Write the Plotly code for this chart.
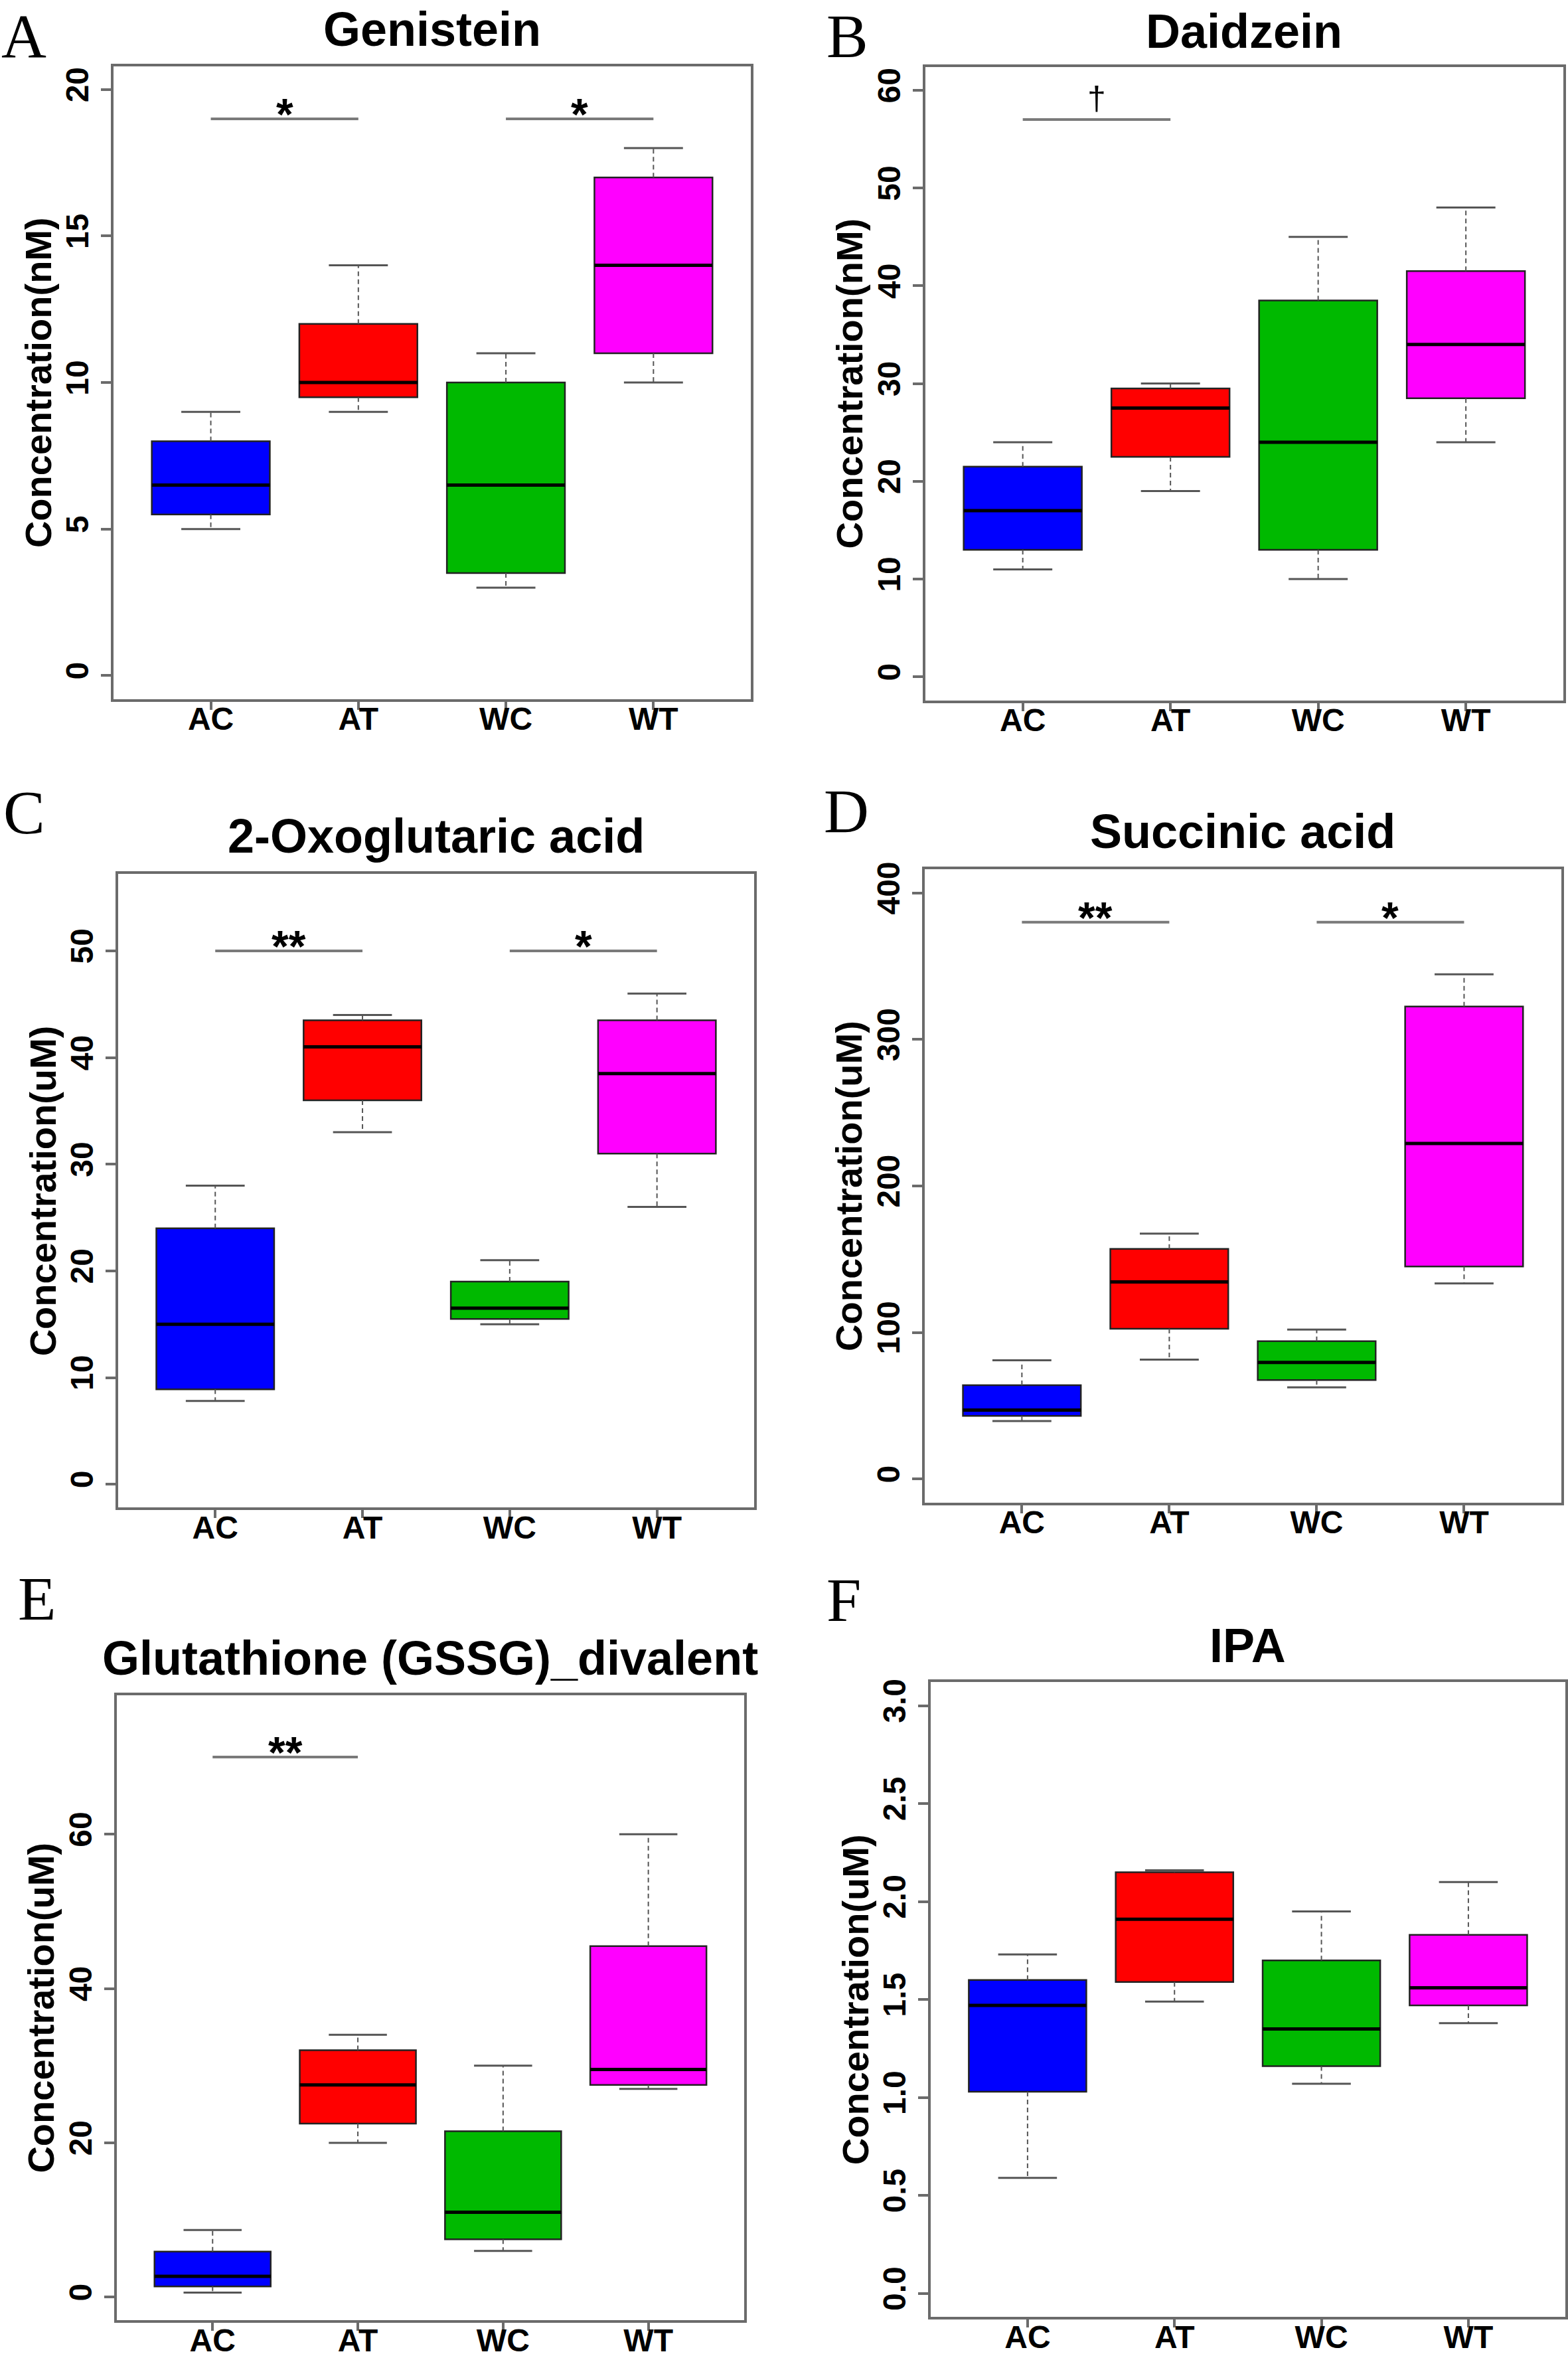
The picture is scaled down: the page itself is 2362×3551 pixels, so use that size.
import plotly.graph_objects as go

# ---------------- data ----------------
groups = ["AC", "AT", "WC", "WT"]
group_pos = [1, 2, 3, 4]
colors = ["#0000FF", "#FF0000", "#00B900", "#FF00FF"]

# A  Genistein (nM)
genistein_low = [5, 9, 3, 10]
genistein_q1 = [5.5, 9.5, 3.5, 11]
genistein_med = [6.5, 10, 6.5, 14]
genistein_q3 = [8, 12, 10, 17]
genistein_high = [9, 14, 11, 18]
genistein_ticks = [0, 5, 10, 15, 20]

# B  Daidzein (nM)
daidzein_low = [11, 19, 10, 24]
daidzein_q1 = [13, 22.5, 13, 28.5]
daidzein_med = [17, 27.5, 24, 34]
daidzein_q3 = [21.5, 29.5, 38.5, 41.5]
daidzein_high = [24, 30, 45, 48]
daidzein_ticks = [0, 10, 20, 30, 40, 50, 60]

# C  2-Oxoglutaric acid (uM)
oxo_low = [7.8, 33, 15, 26]
oxo_q1 = [8.9, 36, 15.5, 31]
oxo_med = [15, 41, 16.5, 38.5]
oxo_q3 = [24, 43.5, 19, 43.5]
oxo_high = [28, 44, 21, 46]
oxo_ticks = [0, 10, 20, 30, 40, 50]

# D  Succinic acid (uM)
succ_low = [39.5, 81.5, 62.5, 133.5]
succ_q1 = [43, 102.5, 67.5, 145]
succ_med = [47, 134.5, 79.5, 229]
succ_q3 = [64, 157, 94, 322.5]
succ_high = [81, 167.5, 102, 344.5]
succ_ticks = [0, 100, 200, 300, 400]

# E  Glutathione (GSSG)_divalent (uM)
gssg_low = [0.6, 20, 6, 27]
gssg_q1 = [1.4, 22.5, 7.5, 27.5]
gssg_med = [2.7, 27.5, 11, 29.5]
gssg_q3 = [5.9, 32, 21.5, 45.5]
gssg_high = [8.7, 34, 30, 60]
gssg_ticks = [0, 20, 40, 60]

# F  IPA (uM)
ipa_low = [0.59, 1.49, 1.07, 1.38]
ipa_q1 = [1.03, 1.59, 1.16, 1.47]
ipa_med = [1.47, 1.91, 1.35, 1.56]
ipa_q3 = [1.60, 2.15, 1.70, 1.83]
ipa_high = [1.73, 2.16, 1.95, 2.10]
ipa_ticks = [0.0, 0.5, 1.0, 1.5, 2.0, 2.5, 3.0]

# significance marks: (from group, to group, label, height)
genistein_sig = [(1, 2, "*", 19), (3, 4, "*", 19)]
daidzein_sig = [(1, 2, "\u2020", 57)]
oxo_sig = [(1, 2, "**", 50), (3, 4, "*", 50)]
succ_sig = [(1, 2, "**", 380), (3, 4, "*", 380)]
gssg_sig = [(1, 2, "**", 70)]
ipa_sig = []

panels = [
    dict(letter="A", title="Genistein", ylab="Concentration(nM)",
         low=genistein_low, q1=genistein_q1, med=genistein_med, q3=genistein_q3, high=genistein_high,
         ticks=genistein_ticks, ylim=(0, 20), sig=genistein_sig, fmt=None),
    dict(letter="B", title="Daidzein", ylab="Concentration(nM)",
         low=daidzein_low, q1=daidzein_q1, med=daidzein_med, q3=daidzein_q3, high=daidzein_high,
         ticks=daidzein_ticks, ylim=(0, 60), sig=daidzein_sig, fmt=None),
    dict(letter="C", title="2-Oxoglutaric acid", ylab="Concentration(uM)",
         low=oxo_low, q1=oxo_q1, med=oxo_med, q3=oxo_q3, high=oxo_high,
         ticks=oxo_ticks, ylim=(0, 55), sig=oxo_sig, fmt=None),
    dict(letter="D", title="Succinic acid", ylab="Concentration(uM)",
         low=succ_low, q1=succ_q1, med=succ_med, q3=succ_q3, high=succ_high,
         ticks=succ_ticks, ylim=(0, 400), sig=succ_sig, fmt=None),
    dict(letter="E", title="Glutathione (GSSG)_divalent", ylab="Concentration(uM)",
         low=gssg_low, q1=gssg_q1, med=gssg_med, q3=gssg_q3, high=gssg_high,
         ticks=gssg_ticks, ylim=(0, 75), sig=gssg_sig, fmt=None),
    dict(letter="F", title="IPA", ylab="Concentration(uM)",
         low=ipa_low, q1=ipa_q1, med=ipa_med, q3=ipa_q3, high=ipa_high,
         ticks=ipa_ticks, ylim=(0, 3), sig=ipa_sig, fmt=".1f"),
]

# ---------------- layout geometry (pixels) ----------------
W, H = 2362, 3551
# plot frame: left, right, top, bottom
frames = [
    (171, 1132, 88, 1046),
    (1395, 2357, 89, 1048),
    (178, 1137, 1311, 2270),
    (1394, 2354, 1304, 2262),
    (176, 1122, 2554, 3500),
    (1403, 2360, 2534, 3495),
]
# panel title centre y, panel letter (left x, centre y)
title_y = [32, 35, 1253, 1246, 2498, 2479]
letter_pos = [(0, 42), (1244, 42), (3, 1217), (1240, 1215), (25, 2407), (1244, 2409)]

FRAME_COL = "#6b6b6b"
SANS = "Liberation Sans"
SERIF = "Liberation Serif"


def px_x(v):
    return v / W


def px_y(v):
    return 1 - v / H


fig = go.Figure()
annotations = []
layout_axes = {}

for k, p in enumerate(panels, start=1):
    xr = "x" if k == 1 else f"x{k}"
    yr = "y" if k == 1 else f"y{k}"
    xa = "xaxis" if k == 1 else f"xaxis{k}"
    ya = "yaxis" if k == 1 else f"yaxis{k}"
    left, right, top, bottom = frames[k - 1]

    # whiskers (dashed)
    wx, wy = [], []
    for i, pos in enumerate(group_pos):
        wx += [pos, pos, None, pos, pos, None]
        wy += [p["q3"][i], p["high"][i], None, p["q1"][i], p["low"][i], None]
    fig.add_trace(go.Scatter(x=wx, y=wy, mode="lines", xaxis=xr, yaxis=yr,
                             line=dict(color="#555555", width=2, dash="7px,5px"),
                             showlegend=False, hoverinfo="skip"))

    # boxes
    fig.add_trace(go.Bar(x=group_pos, base=p["q1"],
                         y=[p["q3"][i] - p["q1"][i] for i in range(4)],
                         width=0.8, xaxis=xr, yaxis=yr,
                         marker=dict(color=colors, line=dict(color="#222222", width=2.5)),
                         showlegend=False, hoverinfo="skip"))

    # staples
    sx, sy = [], []
    for i, pos in enumerate(group_pos):
        sx += [pos - 0.2, pos + 0.2, None, pos - 0.2, pos + 0.2, None]
        sy += [p["high"][i], p["high"][i], None, p["low"][i], p["low"][i], None]
    fig.add_trace(go.Scatter(x=sx, y=sy, mode="lines", xaxis=xr, yaxis=yr,
                             line=dict(color="#555555", width=3),
                             showlegend=False, hoverinfo="skip"))

    # medians
    mx, my = [], []
    for i, pos in enumerate(group_pos):
        mx += [pos - 0.4, pos + 0.4, None]
        my += [p["med"][i], p["med"][i], None]
    fig.add_trace(go.Scatter(x=mx, y=my, mode="lines", xaxis=xr, yaxis=yr,
                             line=dict(color="#000000", width=5),
                             showlegend=False, hoverinfo="skip"))

    # significance bars
    for (g1, g2, lab, h) in p["sig"]:
        fig.add_trace(go.Scatter(x=[g1, g2], y=[h, h], mode="lines", xaxis=xr, yaxis=yr,
                                 line=dict(color="#7a7a7a", width=4),
                                 showlegend=False, hoverinfo="skip"))
        if lab == "\u2020":
            annotations.append(dict(x=(g1 + g2) / 2, y=h, xref=xr, yref=yr, text=lab,
                                    showarrow=False, yanchor="middle", yshift=32,
                                    font=dict(family=SANS, size=50, color="#000")))
        else:
            annotations.append(dict(x=(g1 + g2) / 2, y=h, xref=xr, yref=yr, text=lab,
                                    showarrow=False, yanchor="middle", yshift=7,
                                    font=dict(family=SANS, size=66, color="#000", weight="bold")))

    lo, hi = p["ylim"]
    pad = (hi - lo) * 0.04
    layout_axes[xa] = dict(domain=[px_x(left), px_x(right)], anchor=yr,
                           range=[0.34, 4.66], tickvals=group_pos, ticktext=groups,
                           showline=True, mirror=True, linecolor=FRAME_COL, linewidth=4,
                           ticks="outside", ticklen=12, tickwidth=4, tickcolor=FRAME_COL,
                           showgrid=False, zeroline=False, fixedrange=True,
                           ticklabelstandoff=-27,
                           tickfont=dict(family=SANS, size=48, color="#000", weight="bold"))
    yax = dict(domain=[px_y(bottom), px_y(top)], anchor=xr,
               range=[lo - pad, hi + pad], tickvals=p["ticks"],
               showline=True, mirror=True, linecolor=FRAME_COL, linewidth=4,
               ticks="outside", ticklen=15, tickwidth=4, tickcolor=FRAME_COL,
               showgrid=False, zeroline=False, tickangle=-90, fixedrange=True,
               ticklabelstandoff=0,
               tickfont=dict(family=SANS, size=48, color="#000", weight="bold"))
    if p["fmt"]:
        yax["tickformat"] = p["fmt"]
    layout_axes[ya] = yax

    # title
    annotations.append(dict(x=px_x((left + right) / 2), y=px_y(title_y[k - 1]), xref="paper", yref="paper",
                            text=p["title"], showarrow=False, xanchor="center", yanchor="middle",
                            font=dict(family=SANS, size=72, color="#000", weight="bold")))
    # y-axis title
    annotations.append(dict(x=px_x(left - 114), y=px_y((top + bottom) / 2), xref="paper", yref="paper",
                            text=p["ylab"], showarrow=False, textangle=-90,
                            xanchor="center", yanchor="middle",
                            font=dict(family=SANS, size=56, color="#000", weight="bold")))
    # panel letter
    lx, ly = letter_pos[k - 1]
    annotations.append(dict(x=px_x(lx), y=px_y(ly), xref="paper", yref="paper",
                            text=p["letter"], showarrow=False, xanchor="left", yanchor="middle",
                            font=dict(family=SERIF, size=94, color="#000")))

fig.update_layout(
    width=W, height=H, autosize=False,
    margin=dict(l=0, r=0, t=0, b=0),
    paper_bgcolor="white", plot_bgcolor="white",
    showlegend=False, annotations=annotations,
    **layout_axes,
)

fig.write_html("out.html", config={"displayModeBar": False},
               post_script="document.body.style.margin='0';document.body.style.overflow='hidden';")
